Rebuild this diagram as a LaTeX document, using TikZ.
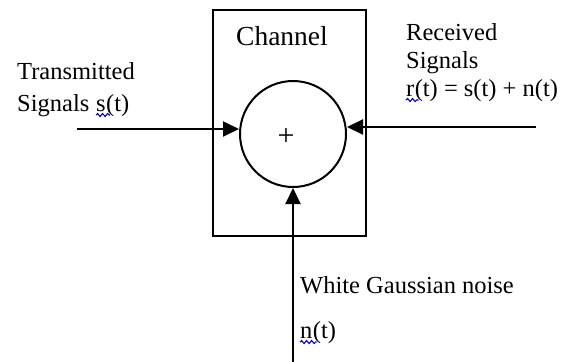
\documentclass[tikz,border=0pt]{standalone}
\usepackage{fontspec}
\setmainfont{Liberation Serif}
\usetikzlibrary{arrows.meta,positioning,decorations.pathmorphing}

\begin{document}
\begin{tikzpicture}[x=1pt,y=-1pt,
    wire/.style={line width=2pt,-{Triangle[length=16pt,width=15pt]}},
    lbl/.style={anchor=base west,inner sep=0pt,font=\fontsize{24.5}{28}\selectfont},
    squiggle/.style={blue!75!black,line width=1.1pt,decorate,decoration={snake,segment length=5pt,amplitude=1.5pt}}]
  \useasboundingbox (0,0) rectangle (574,362);
  % channel block and summing point
  \draw[line width=2pt] (213,10) rectangle (366,236);
  \node[anchor=base,inner sep=0pt,font=\fontsize{27.5}{32}\selectfont] (chan) at (282,45) {Channel};
  \node[draw,circle,line width=2pt,minimum size=106pt,inner sep=0pt] (sum) at (293,134) {};
  \node[font=\fontsize{30}{34}\selectfont,inner sep=0pt] (plus) at (286,137) {+};
  % signal ends
  \coordinate (tx) at (77,129);
  \coordinate (rx) at (536,127);
  \coordinate (nz) at (293,362);
  \draw[wire] (tx) -- (sum.west |- tx);
  \draw[wire] (rx) -- (sum.east |- rx);
  \draw[wire] (nz) -- (sum.south);
  % labels
  \node[lbl] (txa) at (17,79) {Transmitted};
  \node[lbl] (txb) at (17,111) {Signals};
  \node[lbl] (txs) at ([xshift=6.5pt]txb.base east) {s};
  \node[lbl] (txt) at (txs.base east) {(t)};
  \node[lbl] (rxa) at (406,40) {Received};
  \node[lbl] (rxb) at (406,68) {Signals};
  \node[lbl] (rxr) at (406,96) {r};
  \node[lbl] (rxc) at (rxr.base east) {(t) = s(t) + n(t)};
  \node[lbl] (nza) at (300,293) {White Gaussian noise};
  \node[lbl] (nzn) at (300,338) {n};
  \node[lbl] (nzb) at (nzn.base east) {(t)};
  % spelling marks
  \draw[squiggle] ([yshift=-4pt]txs.base west) -- ([yshift=-4pt,xshift=4pt]txs.base east);
  \draw[squiggle] ([yshift=-4pt]rxr.base west) -- ([yshift=-4pt,xshift=4pt]rxr.base east);
  \draw[squiggle] ([yshift=-4pt]nzn.base west) -- ([yshift=-4pt,xshift=4pt]nzn.base east);
\end{tikzpicture}
\end{document}
